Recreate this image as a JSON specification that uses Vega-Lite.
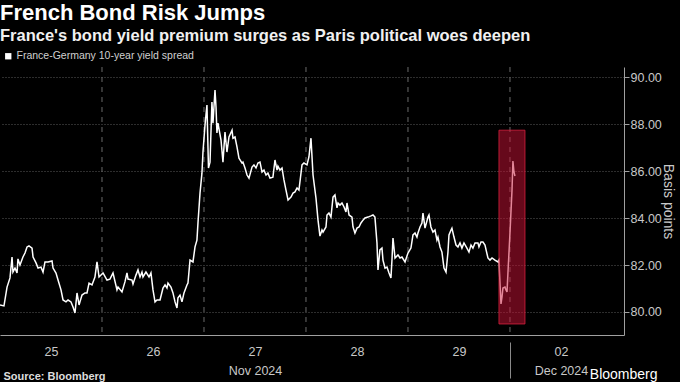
{
  "$schema": "https://vega.github.io/schema/vega-lite/v6.json",
  "width": 624,
  "height": 268,
  "autosize": "none",
  "padding": {"left": 0, "top": 67, "right": 56, "bottom": 47},
  "background": "#000000",
  "title": {
    "text": "French Bond Risk Jumps",
    "subtitle": "France's bond yield premium surges as Paris political woes deepen",
    "anchor": "start",
    "frame": "group",
    "font": "Liberation Sans",
    "fontSize": 22,
    "fontWeight": "bold",
    "color": "#ffffff",
    "subtitleFont": "Liberation Sans",
    "subtitleFontSize": 16.5,
    "subtitleFontWeight": "bold",
    "subtitleColor": "#f0f0f0",
    "subtitlePadding": 3,
    "offset": 6
  },
  "config": {
    "view": {"stroke": null},
    "font": "Liberation Sans",
    "axis": {"labelFont": "Liberation Sans", "titleFont": "Liberation Sans"}
  },
  "datasets": {
    "spread": [
      {"t":0.000,"v":80.30},{"t":0.039,"v":80.26},{"t":0.069,"v":81.06},{"t":0.098,"v":81.45},{"t":0.118,"v":82.34},{"t":0.127,"v":81.70},{"t":0.147,"v":81.87},{"t":0.167,"v":81.66},{"t":0.176,"v":82.26},{"t":0.196,"v":82.00},{"t":0.225,"v":82.34},{"t":0.245,"v":82.51},{"t":0.265,"v":82.77},{"t":0.284,"v":82.81},{"t":0.314,"v":82.72},{"t":0.324,"v":82.34},{"t":0.353,"v":82.09},{"t":0.373,"v":81.87},{"t":0.402,"v":81.91},{"t":0.422,"v":81.70},{"t":0.441,"v":82.13},{"t":0.471,"v":82.13},{"t":0.510,"v":82.17},{"t":0.520,"v":81.87},{"t":0.549,"v":81.66},{"t":0.569,"v":81.36},{"t":0.598,"v":80.94},{"t":0.618,"v":80.51},{"t":0.647,"v":80.43},{"t":0.667,"v":80.51},{"t":0.696,"v":80.43},{"t":0.716,"v":80.21},{"t":0.735,"v":79.96},{"t":0.745,"v":80.38},{"t":0.755,"v":80.81},{"t":0.775,"v":80.30},{"t":0.784,"v":80.43},{"t":0.804,"v":80.72},{"t":0.833,"v":80.81},{"t":0.853,"v":80.81},{"t":0.873,"v":81.23},{"t":0.902,"v":81.15},{"t":0.931,"v":81.49},{"t":0.951,"v":82.13},{"t":0.971,"v":81.49},{"t":1.000,"v":81.62},
      {"t":1.010,"v":81.66},{"t":1.049,"v":81.36},{"t":1.078,"v":81.40},{"t":1.108,"v":81.66},{"t":1.147,"v":80.94},{"t":1.157,"v":81.06},{"t":1.196,"v":80.85},{"t":1.225,"v":81.28},{"t":1.245,"v":81.66},{"t":1.255,"v":81.40},{"t":1.294,"v":81.36},{"t":1.304,"v":81.19},{"t":1.333,"v":81.57},{"t":1.353,"v":81.79},{"t":1.373,"v":81.49},{"t":1.392,"v":81.70},{"t":1.402,"v":81.49},{"t":1.431,"v":81.70},{"t":1.461,"v":81.49},{"t":1.480,"v":81.66},{"t":1.500,"v":80.94},{"t":1.520,"v":80.43},{"t":1.539,"v":80.51},{"t":1.569,"v":80.51},{"t":1.598,"v":81.02},{"t":1.618,"v":81.15},{"t":1.637,"v":81.02},{"t":1.647,"v":81.23},{"t":1.676,"v":81.06},{"t":1.696,"v":80.81},{"t":1.716,"v":80.43},{"t":1.735,"v":80.17},{"t":1.745,"v":80.60},{"t":1.765,"v":80.72},{"t":1.784,"v":80.43},{"t":1.804,"v":80.81},{"t":1.833,"v":81.15},{"t":1.843,"v":81.23},{"t":1.863,"v":82.21},{"t":1.892,"v":82.13},{"t":1.912,"v":82.77},{"t":1.931,"v":83.06},{"t":1.941,"v":83.79},{"t":1.961,"v":85.06},{"t":1.980,"v":85.91},{"t":1.990,"v":86.81},
      {"t":2.010,"v":87.96},{"t":2.029,"v":88.81},{"t":2.039,"v":87.02},{"t":2.044,"v":86.13},{"t":2.059,"v":86.38},{"t":2.078,"v":88.94},{"t":2.088,"v":88.04},{"t":2.108,"v":89.45},{"t":2.118,"v":88.72},{"t":2.127,"v":87.62},{"t":2.137,"v":88.04},{"t":2.167,"v":87.32},{"t":2.186,"v":86.38},{"t":2.206,"v":87.66},{"t":2.225,"v":86.81},{"t":2.245,"v":87.45},{"t":2.275,"v":87.74},{"t":2.284,"v":87.40},{"t":2.304,"v":87.45},{"t":2.324,"v":87.02},{"t":2.343,"v":86.55},{"t":2.373,"v":86.34},{"t":2.382,"v":86.38},{"t":2.402,"v":86.13},{"t":2.422,"v":85.83},{"t":2.441,"v":85.70},{"t":2.471,"v":86.17},{"t":2.490,"v":86.26},{"t":2.510,"v":86.13},{"t":2.529,"v":86.34},{"t":2.549,"v":86.38},{"t":2.569,"v":85.96},{"t":2.588,"v":86.04},{"t":2.608,"v":85.83},{"t":2.627,"v":85.91},{"t":2.647,"v":85.70},{"t":2.676,"v":85.74},{"t":2.696,"v":86.47},{"t":2.716,"v":86.04},{"t":2.725,"v":86.21},{"t":2.745,"v":86.04},{"t":2.765,"v":86.13},{"t":2.784,"v":85.62},{"t":2.804,"v":85.19},{"t":2.824,"v":84.77},{"t":2.853,"v":84.89},{"t":2.873,"v":85.06},{"t":2.892,"v":85.11},{"t":2.912,"v":85.28},{"t":2.931,"v":85.19},{"t":2.961,"v":86.26},{"t":2.980,"v":86.34},
      {"t":3.010,"v":86.26},{"t":3.029,"v":86.60},{"t":3.049,"v":87.40},{"t":3.069,"v":85.83},{"t":3.098,"v":84.85},{"t":3.118,"v":83.91},{"t":3.137,"v":83.23},{"t":3.157,"v":83.49},{"t":3.167,"v":83.40},{"t":3.196,"v":83.62},{"t":3.206,"v":84.13},{"t":3.225,"v":84.21},{"t":3.245,"v":84.04},{"t":3.265,"v":84.89},{"t":3.284,"v":84.98},{"t":3.304,"v":84.43},{"t":3.314,"v":84.64},{"t":3.333,"v":84.55},{"t":3.353,"v":84.64},{"t":3.373,"v":84.47},{"t":3.392,"v":84.26},{"t":3.402,"v":84.64},{"t":3.422,"v":84.13},{"t":3.451,"v":84.04},{"t":3.461,"v":83.62},{"t":3.480,"v":83.36},{"t":3.500,"v":83.57},{"t":3.520,"v":83.62},{"t":3.539,"v":83.79},{"t":3.559,"v":83.91},{"t":3.578,"v":84.00},{"t":3.608,"v":84.04},{"t":3.637,"v":84.09},{"t":3.657,"v":84.13},{"t":3.676,"v":84.04},{"t":3.696,"v":82.94},{"t":3.706,"v":81.79},{"t":3.725,"v":82.64},{"t":3.745,"v":82.72},{"t":3.755,"v":82.21},{"t":3.775,"v":81.87},{"t":3.794,"v":81.91},{"t":3.814,"v":81.66},{"t":3.833,"v":81.45},{"t":3.843,"v":82.21},{"t":3.853,"v":83.15},{"t":3.873,"v":82.30},{"t":3.902,"v":82.43},{"t":3.922,"v":82.30},{"t":3.941,"v":82.34},{"t":3.971,"v":82.13},
      {"t":4.000,"v":82.51},{"t":4.029,"v":82.72},{"t":4.049,"v":83.28},{"t":4.069,"v":83.36},{"t":4.088,"v":83.19},{"t":4.098,"v":83.36},{"t":4.118,"v":83.62},{"t":4.137,"v":83.79},{"t":4.147,"v":84.21},{"t":4.167,"v":83.57},{"t":4.196,"v":84.04},{"t":4.206,"v":84.13},{"t":4.225,"v":83.62},{"t":4.245,"v":83.40},{"t":4.265,"v":83.49},{"t":4.284,"v":83.06},{"t":4.294,"v":83.19},{"t":4.314,"v":82.77},{"t":4.333,"v":82.55},{"t":4.353,"v":81.87},{"t":4.373,"v":81.70},{"t":4.392,"v":82.55},{"t":4.402,"v":83.28},{"t":4.422,"v":83.49},{"t":4.431,"v":83.57},{"t":4.451,"v":83.19},{"t":4.471,"v":82.85},{"t":4.490,"v":82.77},{"t":4.510,"v":82.94},{"t":4.529,"v":82.72},{"t":4.549,"v":82.94},{"t":4.578,"v":82.72},{"t":4.598,"v":82.55},{"t":4.618,"v":82.85},{"t":4.637,"v":82.72},{"t":4.657,"v":82.94},{"t":4.686,"v":82.94},{"t":4.696,"v":82.77},{"t":4.716,"v":82.98},{"t":4.735,"v":82.98},{"t":4.755,"v":82.85},{"t":4.784,"v":82.30},{"t":4.804,"v":82.21},{"t":4.824,"v":82.30},{"t":4.853,"v":82.21},{"t":4.882,"v":82.13},{"t":4.892,"v":82.21},{"t":4.902,"v":81.23},{"t":4.912,"v":80.34},{"t":4.922,"v":80.64},{"t":4.931,"v":81.02},{"t":4.951,"v":81.06},{"t":4.961,"v":80.94},{"t":4.971,"v":80.85},{"t":4.980,"v":81.66},{"t":5.000,"v":83.36},{"t":5.020,"v":85.19},{"t":5.029,"v":86.43},{"t":5.039,"v":85.96},{"t":5.049,"v":85.79}
    ],
    "days": [{"b":1},{"b":2},{"b":3},{"b":4},{"b":5}],
    "box": [{"x1":4.892,"x2":5.147,"y1":79.49,"y2":87.74}]
  },
  "layer": [
    {
      "data": {"name": "days"},
      "mark": {"type": "rule", "color": "#6a6a6a", "strokeDash": [5, 5], "strokeWidth": 1},
      "encoding": {
        "x": {
          "field": "b", "type": "quantitative",
          "scale": {"domain": [0, 6.118], "nice": false, "zero": false},
          "axis": {
            "orient": "bottom", "values": [5], "offset": 7, "tickSize": 36, "tickColor": "#8a8a8a", "tickWidth": 1,
            "labels": false, "domain": false, "grid": false,
            "title": "Bloomberg", "titleX": 657, "titleY": 36, "titleAlign": "right", "titleAnchor": "end",
            "titleBaseline": "alphabetic", "titleFontSize": 14, "titleFontWeight": "normal", "titleColor": "#ffffff"
          }
        }
      }
    },
    {
      "data": {"name": "spread"},
      "mark": {"type": "line", "color": "#ffffff", "strokeWidth": 1.5, "interpolate": "linear"},
      "encoding": {
        "x": {
          "field": "t", "type": "quantitative",
          "scale": {"domain": [0, 6.118], "nice": false, "zero": false},
          "axis": {
            "orient": "bottom", "values": [0.5, 1.5, 2.5, 3.5, 4.5, 5.5],
            "labelExpr": "[['25'],['26'],['27','Nov 2024'],['28'],['29'],['02','Dec 2024']][floor(datum.value)]",
            "ticks": false, "grid": false, "domain": true, "domainColor": "#a0a0a0", "domainWidth": 1,
            "labelColor": "#c8c8c8", "labelFontSize": 12.5, "labelBaseline": "top", "labelPadding": 10,
            "labelLineHeight": 19, "labelOverlap": false, "labelFlush": false,
            "title": "Source: Bloomberg", "titleX": 3, "titleY": 44, "titleAlign": "left", "titleAnchor": "start",
            "titleBaseline": "alphabetic", "titleFontSize": 11, "titleFontWeight": "bold", "titleColor": "#dddddd"
          }
        },
        "y": {
          "field": "v", "type": "quantitative",
          "scale": {"domain": [79.02, 90.43], "nice": false, "zero": false},
          "axis": {
            "orient": "right", "values": [79, 80, 81, 82, 83, 84, 85, 86, 87, 88, 89, 90],
            "labelExpr": "datum.value % 2 == 0 ? format(datum.value, '.2f') : ''",
            "grid": true, "gridColor": "#5a5a5a", "gridDash": [1, 2], "gridWidth": 1,
            "gridOpacity": {"condition": {"test": "datum.value % 2 == 1", "value": 0}, "value": 1},
            "tickSize": {"condition": {"test": "datum.value % 2 == 1", "value": 3}, "value": 5},
            "tickColor": "#a0a0a0", "domainColor": "#a0a0a0",
            "labelColor": "#c8c8c8", "labelFontSize": 12.5, "labelPadding": 1,
            "title": "Basis points", "titleAngle": 90, "titleColor": "#c8c8c8", "titleFontSize": 14,
            "titleFontWeight": "normal", "titleX": 39, "titleY": 134, "titleAlign": "center",
            "titleBaseline": "alphabetic"
          }
        },
        "color": {
          "datum": "France-Germany 10-year yield spread",
          "scale": {"range": ["#ffffff"]},
          "legend": {
            "orient": "none", "legendX": 3, "legendY": -16, "title": null, "labelLimit": 0,
            "symbolType": "square", "symbolSize": 40, "symbolFillColor": "#ffffff", "symbolStrokeColor": "#ffffff",
            "symbolStrokeWidth": 0, "labelColor": "#d0d0d0", "labelFontSize": 10.5, "labelOffset": 3
          }
        }
      }
    },
    {
      "data": {"name": "box"},
      "mark": {"type": "rect", "fill": "#cc1236", "fillOpacity": 0.5, "stroke": "#d8203f", "strokeOpacity": 0.8, "strokeWidth": 1},
      "encoding": {
        "x": {"field": "x1", "type": "quantitative", "axis": null},
        "x2": {"field": "x2"},
        "y": {"field": "y1", "type": "quantitative"},
        "y2": {"field": "y2"}
      }
    }
  ],
  "resolve": {"axis": {"x": "independent"}}
}
